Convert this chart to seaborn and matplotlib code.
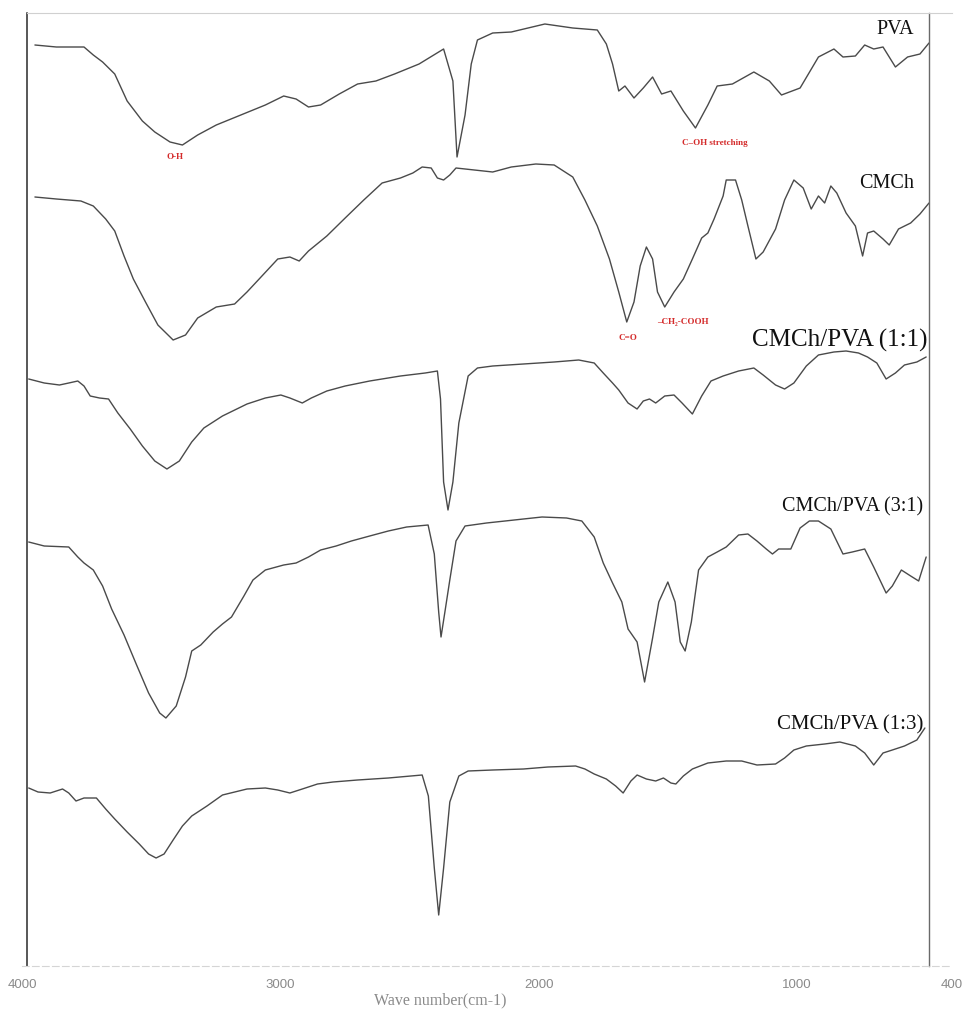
import matplotlib
matplotlib.use("Agg")
import matplotlib.pyplot as plt
import seaborn as sns
import pandas as pd

# ---------------- data (wavenumber cm-1, offset transmittance a.u.) ----------------
pva_wn = [3950, 3867, 3760, 3724, 3688, 3641, 3593, 3534, 3486, 3427, 3379, 3320, 3248, 3153,
          3058, 2987, 2939, 2891, 2844, 2772, 2701, 2630, 2558, 2463, 2368, 2332, 2316, 2285,
          2261, 2237, 2178, 2106, 1976, 1868, 1773, 1738, 1714, 1690, 1666, 1631, 1595, 1559,
          1524, 1488, 1440, 1393, 1345, 1309, 1250, 1167, 1107, 1060, 988, 917, 857, 822, 774,
          738, 703, 667, 619, 572, 524, 489]
pva_t = [92.1, 91.9, 91.9, 91.1, 90.4, 89.2, 86.5, 84.5, 83.4, 82.4, 82.1, 83.1, 84.1, 85.1,
         86.1, 87.0, 86.7, 85.9, 86.1, 87.2, 88.2, 88.5, 89.2, 90.2, 91.7, 88.5, 80.9, 85.1,
         90.2, 92.6, 93.3, 93.4, 94.2, 93.8, 93.6, 92.2, 90.2, 87.5, 88.0, 86.8, 87.8, 88.9,
         87.2, 87.5, 85.5, 83.8, 86.1, 88.0, 88.2, 89.4, 88.5, 87.1, 87.8, 90.9, 91.7, 90.9, 91.0,
         92.1, 91.7, 91.9, 89.9, 90.9, 91.2, 92.3]

cmch_wn = [3950, 3867, 3772, 3724, 3676, 3641, 3605, 3569, 3522, 3474, 3415, 3367, 3320, 3248,
           3177, 3129, 3082, 3010, 2963, 2927, 2891, 2820, 2749, 2677, 2606, 2535, 2487, 2451,
           2416, 2392, 2368, 2344, 2320, 2249, 2178, 2106, 2011, 1940, 1868, 1821, 1773, 1726,
           1690, 1659, 1631, 1607, 1583, 1559, 1540, 1512, 1476, 1440, 1405, 1369, 1345, 1321,
           1286, 1274, 1238, 1214, 1190, 1159, 1131, 1083, 1048, 1012, 976, 945, 917, 893, 869,
           846, 810, 774, 746, 727, 703, 667, 643, 607, 560, 524, 489]
cmch_t = [76.9, 76.7, 76.5, 76.0, 74.7, 73.5, 71.0, 68.7, 66.4, 64.1, 62.6, 63.1, 64.8, 65.9,
          66.2, 67.4, 68.7, 70.7, 70.9, 70.5, 71.5, 73.0, 74.8, 76.6, 78.3, 78.8, 79.3, 79.9,
          79.8, 78.8, 78.6, 79.1, 79.8, 79.6, 79.4, 79.9, 80.2, 80.1, 78.9, 76.6, 74.0, 70.7,
          67.4, 64.4, 66.4, 70.0, 71.9, 70.7, 67.4, 65.9, 67.4, 68.7, 70.7, 72.8, 73.3, 74.7,
          77.0, 78.6, 78.6, 76.6, 74.0, 70.7, 71.4, 73.7, 76.6, 78.6, 77.8, 75.7, 77.0, 76.3, 78.0,
          77.3, 75.3, 74.0, 71.0, 73.3, 73.5, 72.7, 72.1, 73.7, 74.3, 75.2, 76.3]

b11_wn = [3974, 3914, 3855, 3819, 3784, 3760, 3736, 3700, 3665, 3629, 3581, 3534, 3486, 3439,
          3391, 3343, 3296, 3224, 3129, 3058, 2998, 2963, 2915, 2880, 2820, 2749, 2654, 2535,
          2439, 2392, 2380, 2368, 2351, 2332, 2309, 2273, 2237, 2178, 2059, 1940, 1845, 1785,
          1750, 1714, 1690, 1654, 1619, 1595, 1571, 1547, 1512, 1476, 1445, 1405, 1369, 1333,
          1286, 1226, 1167, 1131, 1083, 1048, 1012, 964, 917, 857, 810, 762, 727, 691, 655, 619,
          584, 536, 500]
b11_t = [58.7, 58.3, 58.1, 58.3, 58.5, 58.0, 57.0, 56.8, 56.7, 55.3, 53.7, 52.0, 50.5, 49.7,
         50.5, 52.4, 53.8, 55.0, 56.2, 56.8, 57.1, 56.8, 56.3, 56.8, 57.5, 58.0, 58.5, 59.0,
         59.3, 59.5, 56.7, 48.4, 45.6, 48.4, 54.3, 59.0, 59.8, 60.0, 60.2, 60.4, 60.6, 60.3,
         59.3, 58.3, 57.6, 56.3, 55.7, 56.5, 56.7, 56.3, 57.0, 57.1, 56.3, 55.2, 57.0, 58.5,
         59.0, 59.5, 59.8, 59.1, 58.1, 57.7, 58.3, 60.0, 61.1, 61.4, 61.5, 61.3, 60.9, 60.3, 58.7, 59.3,
         60.1, 60.4, 60.9]

b31_wn = [3974, 3914, 3819, 3784, 3760, 3724, 3688, 3653, 3605, 3558, 3510, 3467, 3443, 3403,
          3367, 3343, 3308, 3260, 3224, 3189, 3141, 3106, 3058, 2987, 2939, 2891, 2844, 2784,
          2725, 2654, 2582, 2511, 2428, 2404, 2387, 2378, 2363, 2344, 2320, 2285, 2202, 2130,
          2059, 1987, 1892, 1833, 1785, 1750, 1714, 1678, 1654, 1619, 1590, 1559, 1535, 1500,
          1472, 1452, 1433, 1409, 1381, 1345, 1309, 1274, 1226, 1190, 1155, 1119, 1095, 1071,
          1024, 988, 952, 917, 869, 822, 786, 738, 703, 655, 631, 596, 560, 529, 500]
b31_t = [42.4, 42.0, 41.9, 40.9, 40.3, 39.6, 38.0, 35.7, 33.1, 30.2, 27.3, 25.3, 24.8, 26.0,
         28.9, 31.5, 32.1, 33.4, 34.2, 34.9, 37.0, 38.6, 39.6, 40.1, 40.3, 40.9, 41.6, 42.0,
         42.5, 43.0, 43.5, 43.9, 44.1, 41.2, 35.4, 32.9, 35.4, 38.6, 42.5, 44.0, 44.3, 44.5,
         44.7, 44.9, 44.8, 44.5, 42.9, 40.3, 38.3, 36.4, 33.7, 32.4, 28.4, 32.8, 36.4, 38.4,
         36.4, 32.4, 31.5, 34.4, 39.6, 40.9, 41.4, 41.9, 43.1, 43.2, 42.5, 41.7, 41.2, 41.7,
         41.7, 43.8, 44.5, 44.5, 43.7, 41.2, 41.4, 41.7, 39.9, 37.3, 38.0, 39.6, 39.0, 38.5, 40.9]

b13_wn = [3974, 3938, 3891, 3843, 3819, 3791, 3760, 3712, 3676, 3641, 3593, 3546, 3510, 3481,
          3450, 3415, 3379, 3343, 3284, 3224, 3129, 3058, 3010, 2963, 2915, 2856, 2796, 2701,
          2582, 2451, 2427, 2404, 2387, 2368, 2344, 2309, 2273, 2178, 2059, 1964, 1857, 1821,
          1785, 1738, 1702, 1673, 1643, 1619, 1583, 1547, 1517, 1488, 1469, 1440, 1405, 1345,
          1274, 1214, 1155, 1083, 1048, 1012, 964, 893, 834, 774, 738, 703, 667, 631, 584, 536, 505]
b13_t = [17.8, 17.4, 17.3, 17.7, 17.3, 16.5, 16.8, 16.8, 15.7, 14.7, 13.4, 12.2, 11.2, 10.8,
         11.2, 12.6, 14.0, 15.0, 16.0, 17.1, 17.7, 17.8, 17.6, 17.3, 17.7, 18.2, 18.4, 18.6,
         18.8, 19.1, 17.0, 9.8, 5.1, 9.8, 16.4, 19.0, 19.5, 19.6, 19.7, 19.9, 20.0, 19.7,
         19.2, 18.7, 18.0, 17.3, 18.5, 19.1, 18.7, 18.5, 18.8, 18.3, 18.2, 19.0, 19.7, 20.3,
         20.5, 20.5, 20.1, 20.2, 20.8, 21.6, 22.0, 22.2, 22.4, 22.0, 21.3, 20.1, 21.3, 21.6, 22.0, 22.6, 23.8]

series_names = ["PVA", "CMCh", "CMCh/PVA (1:1)", "CMCh/PVA (3:1)", "CMCh/PVA (1:3)"]
tick_values = [4000, 3000, 2000, 1000, 400]
tick_labels = ["4000", "3000", "2000", "1000", "400"]

frames = []
for name, wn, t in zip(series_names,
                       [pva_wn, cmch_wn, b11_wn, b31_wn, b13_wn],
                       [pva_t, cmch_t, b11_t, b31_t, b13_t]):
    frames.append(pd.DataFrame({"wn": wn, "t": t, "sample": name}))
df = pd.concat(frames, ignore_index=True)

# ---------------- figure ----------------
sns.set_theme(style="white")
plt.rcParams["font.family"] = ["Liberation Serif", "DejaVu Serif"]

W, H = 965, 1010
fig = plt.figure(figsize=(W / 100, H / 100), dpi=100)
ax = fig.add_axes([22 / W, (H - 966) / H, 930 / W, (966 - 13) / H])

for name in series_names:
    sub = df[df["sample"] == name]
    sns.lineplot(data=sub, x="wn", y="t", ax=ax, color="#4a4a4a", linewidth=1.0,
                 estimator=None, sort=False, legend=False)

ax.set_xlim(4000, 400)
ax.set_ylim(0, 95.3)

ax.set_xticks(tick_values)
ax.set_xticklabels(tick_labels)
ax.set_yticks([])
ax.tick_params(axis="x", length=0, pad=9, labelsize=9.5, labelcolor="#8a8a8a")
for lab in ax.get_xticklabels():
    lab.set_family(["Liberation Sans", "DejaVu Sans"])

ax.set_xlabel("Wave number(cm-1)", fontsize=11.5, color="#8a8a8a")
ax.xaxis.set_label_coords(0.45, -0.028)
ax.set_ylabel("")

# frame
ax.spines["left"].set_position(("data", 3981))
ax.spines["left"].set_color("#2a2a2a")
ax.spines["left"].set_linewidth(1.1)
ax.spines["right"].set_position(("data", 488))
ax.spines["right"].set_color("#6a6a6a")
ax.spines["right"].set_linewidth(1.0)
ax.spines["top"].set_color("#d0d0d0")
ax.spines["top"].set_linewidth(0.8)
ax.spines["top"].set_bounds(3981, 400)
ax.spines["bottom"].set_color("#d5d5d5")
ax.spines["bottom"].set_linewidth(0.8)
ax.spines["bottom"].set_linestyle((0, (6, 3)))

# sample labels
ax.text(546, 93.6, "PVA", ha="right", va="center", fontsize=14.5, color="#111111")
ax.text(546, 78.2, "CMCh", ha="right", va="center", fontsize=14.5, color="#111111")
ax.text(494, 62.6, "CMCh/PVA (1:1)", ha="right", va="center", fontsize=18, color="#111111")
ax.text(510, 45.9, "CMCh/PVA (3:1)", ha="right", va="center", fontsize=14.5, color="#111111")
ax.text(510, 24.1, "CMCh/PVA (1:3)", ha="right", va="center", fontsize=15, color="#111111")

# band annotations
red = "#d42b2b"
ax.text(3408, 80.9, "O-H", ha="center", va="center", fontsize=6.5, color=red, fontweight="bold")
ax.text(1319, 82.3, "C\u2013OH stretching", ha="center", va="center", fontsize=6.5, color=red,
        fontweight="bold")
ax.text(1656, 62.8, "C=O", ha="center", va="center", fontsize=6.5, color=red, fontweight="bold")
ax.text(1443, 64.4, "\u2013CH\u2082-COOH", ha="center", va="center", fontsize=6.5, color=red,
        fontweight="bold")

fig.savefig("out.png", dpi=100)
